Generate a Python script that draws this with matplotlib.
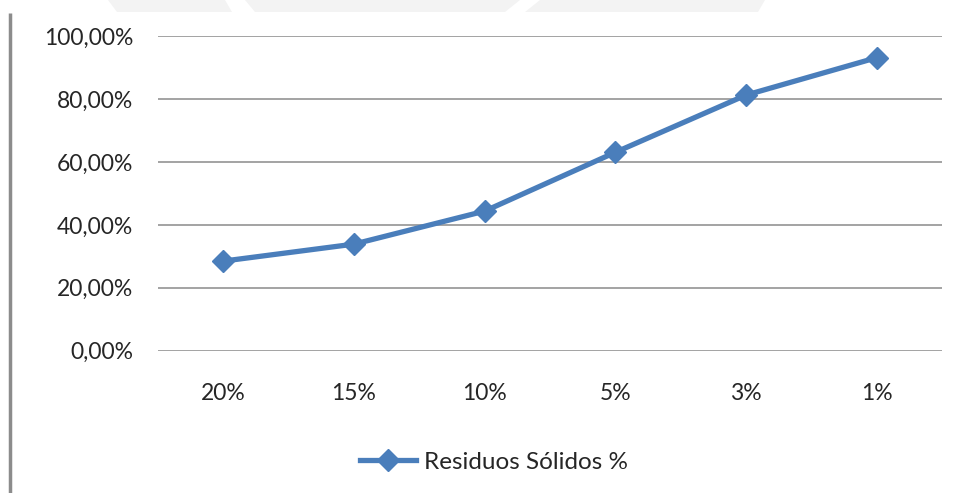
import matplotlib
matplotlib.use("Agg")
import matplotlib.pyplot as plt
from matplotlib.patches import Polygon
from matplotlib.lines import Line2D
from matplotlib.ticker import FuncFormatter

# Data
categories = ["20%", "15%", "10%", "5%", "3%", "1%"]
residuos = [28.5, 33.9, 44.4, 63.1, 81.3, 93.2]
series_name = "Residuos Sólidos %"
y_ticks = [0, 20, 40, 60, 80, 100]

plt.rcParams["font.family"] = ["Lato", "DejaVu Sans"]
color = "#4a7ebb"
text_color = "#262626"

W, H = 959, 493
fig = plt.figure(figsize=(W / 100, H / 100), dpi=100)

# faint page decoration along the top edge
bg = fig.add_axes([0, 0, 1, 1])
bg.set_xlim(0, W)
bg.set_ylim(H, 0)
bg.axis("off")
bg.add_patch(Polygon([(108, 0), (225, 0), (232, 12), (117, 12)], closed=True,
                     facecolor="#f3f3f3", edgecolor="none"))
bg.add_patch(Polygon([(245, 0), (520, 0), (505, 12), (255, 12)], closed=True,
                     facecolor="#f3f3f3", edgecolor="none"))
bg.add_patch(Polygon([(540, 0), (765, 0), (758, 12), (525, 12)], closed=True,
                     facecolor="#f3f3f3", edgecolor="none"))
bg.plot([10, 10], [13, H], color="#8c8c8c", lw=2.5, solid_capstyle="butt")

ax = fig.add_axes([158 / W, 1 - 350.7 / H, (942 - 158) / W, (350.7 - 36.3) / H])
x = list(range(len(categories)))
ax.plot(x, residuos, color=color, lw=3.8, marker="D", markersize=11,
        markerfacecolor=color, markeredgecolor=color, zorder=3)

ax.set_xlim(-0.5, len(categories) - 0.5)
ax.set_ylim(0, 100)
ax.set_yticks(y_ticks)
ax.yaxis.set_major_formatter(FuncFormatter(lambda v, p: f"{v:.2f}".replace(".", ",") + "%"))
ax.set_xticks(x)
ax.set_xticklabels(categories)
ax.grid(axis="y", color="#939393", lw=1.2)
ax.set_axisbelow(True)
for s in ax.spines.values():
    s.set_visible(False)
ax.tick_params(axis="both", length=0, labelsize=16.5, colors=text_color)
ax.tick_params(axis="y", pad=18)
ax.tick_params(axis="x", pad=23)

handle = Line2D([], [], color=color, lw=3.8, marker="D", markersize=11)
fig.legend([handle], [series_name], loc="center", bbox_to_anchor=(494 / W, 1 - 462 / H),
           frameon=False, fontsize=17.5, handlelength=2.3, handletextpad=0.35,
           labelcolor=text_color)

fig.savefig("out.png", dpi=100)
